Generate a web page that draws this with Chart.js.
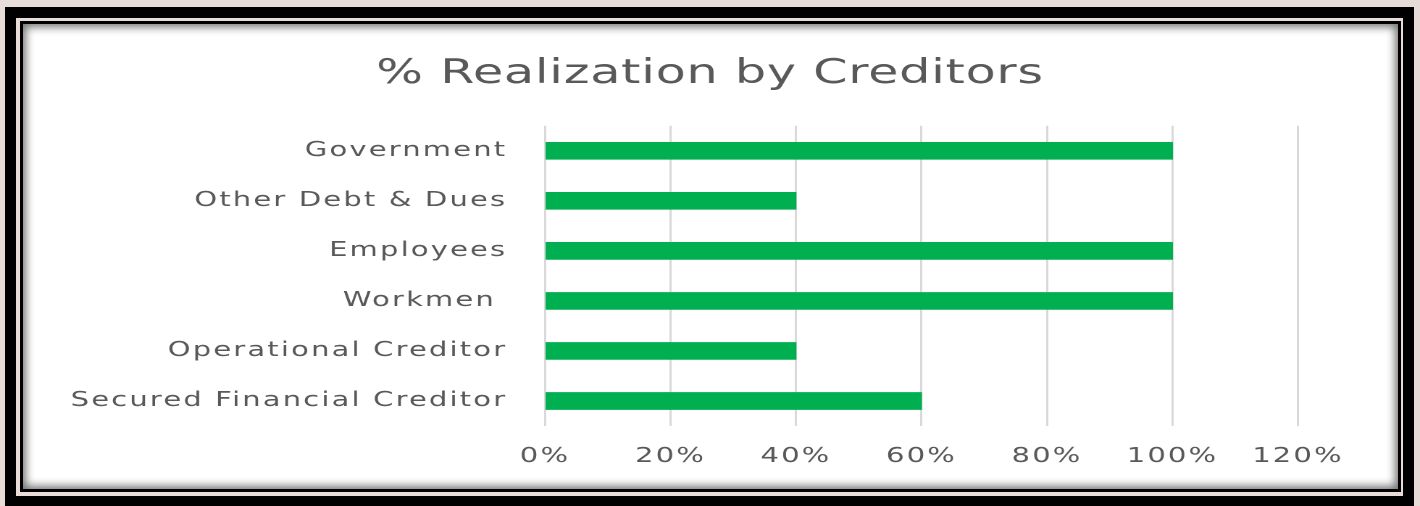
<!DOCTYPE html>
<html>
<head>
<meta charset="utf-8">
<script src="https://cdn.jsdelivr.net/npm/chart.js@4/dist/chart.umd.min.js"></script>
<style>
    html, body { margin: 0; padding: 0; overflow: hidden; }
    body { width: 1420px; height: 506px; background: #e8dcd8; position: relative; }
    .frame-outer {
        position: absolute; left: 5px; top: 7px; width: 1409px; height: 500px;
        box-sizing: border-box; border: 11px solid #000; background: #e8dcd8;
    }
    .frame-inner {
        position: absolute; left: 20px; top: 21px; width: 1381px; height: 471px;
        box-sizing: border-box; border: 3px solid #000; background: #fff;
        box-shadow: inset 0 0 9px 3px rgba(0, 0, 0, 0.55);
    }
    /* the original export is stretched sideways, so the chart is drawn 980 wide and widened to 1420 */
    #chart {
        position: absolute; left: 0; top: 0;
        transform: scaleX(1.44898); transform-origin: 0 0;
    }
</style>
</head>
<body>
<div class="frame-outer"></div>
<div class="frame-inner"></div>
<canvas id="chart" width="980" height="506"></canvas>
<script>
const categories = ['Government', 'Other Debt & Dues', 'Employees', 'Workmen ', 'Operational Creditor', 'Secured Financial Creditor'];
const realization = [100, 40, 100, 100, 40, 60];
const xTicks = [0, 20, 40, 60, 80, 100, 120];

const textGray = '#595959';
const font = "'DejaVu Sans', sans-serif";

// loose lettering, and keep the title centred on the whole canvas
const titleAndSpacing = {
    id: 'titleAndSpacing',
    beforeDraw(chart) {
        const ctx = chart.ctx;
        ctx.letterSpacing = '1.5px';
        const tb = chart.titleBlock;
        if (tb && !tb._patched) {
            const draw = tb.draw.bind(tb);
            tb.draw = (area) => {
                ctx.save();
                ctx.letterSpacing = '0.5px';
                ctx.translate(chart.width / 2 - (tb.left + tb.right) / 2, 0);
                draw(area);
                ctx.restore();
            };
            tb._patched = true;
        }
    },
    afterDraw(chart) {
        chart.ctx.letterSpacing = '0px';
    }
};

new Chart(document.getElementById('chart'), {
    type: 'bar',
    data: {
        labels: categories,
        datasets: [{
            label: '% Realization',
            data: realization,
            backgroundColor: '#00b050',
            borderWidth: 0,
            barThickness: 17
        }]
    },
    options: {
        indexAxis: 'y',
        responsive: false,
        animation: false,
        devicePixelRatio: 2,
        layout: {
            padding: { left: 20, right: 84.2, top: 10, bottom: 0 }
        },
        plugins: {
            legend: { display: false },
            tooltip: { enabled: false },
            title: {
                display: true,
                text: '% Realization by Creditors',
                color: textGray,
                font: { family: font, size: 34, weight: 'normal' },
                padding: { top: 44, bottom: 31 }
            }
        },
        scales: {
            x: {
                min: 0,
                max: 120,
                afterBuildTicks(scale) {
                    scale.ticks = xTicks.map(v => ({ value: v }));
                },
                afterFit(scale) { scale.height = 80; },
                grid: {
                    color: '#d9d9d9',
                    lineWidth: 1.5,
                    drawTicks: false
                },
                border: { display: false },
                ticks: {
                    color: textGray,
                    padding: 19,
                    font: { family: font, size: 20 },
                    callback: (v) => v + '%'
                }
            },
            y: {
                afterFit(scale) { scale.width = 356.1; },
                grid: { display: false, drawTicks: false },
                border: { display: false },
                ticks: {
                    color: textGray,
                    padding: 26,
                    font: { family: font, size: 20 }
                }
            }
        }
    },
    plugins: [titleAndSpacing]
});
</script>
</body>
</html>
